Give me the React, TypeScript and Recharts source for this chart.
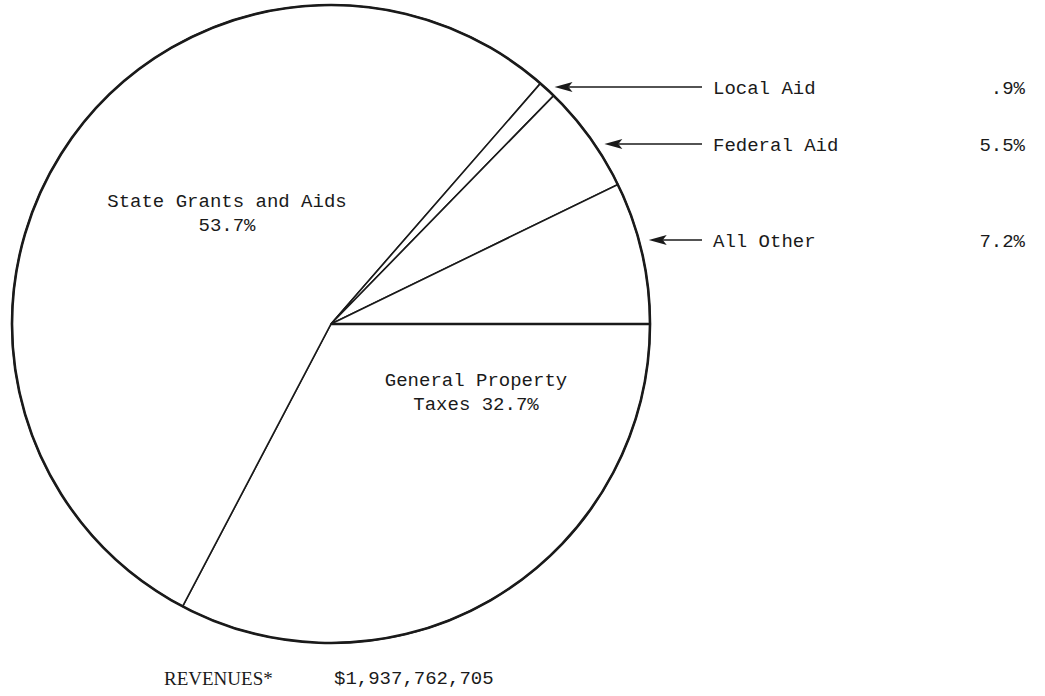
import { Pie, PieChart } from 'recharts'

const CATEGORIES = ['General Property Taxes', 'State Grants and Aids', 'Local Aid', 'Federal Aid', 'All Other']
const SHARES = [32.7, 53.7, 0.9, 5.5, 7.2]
const TOTAL_LABEL = 'REVENUES*'
const TOTAL_VALUE = '$1,937,762,705'

const MONO = '"Liberation Mono", "DejaVu Sans Mono", monospace'
const SERIF = '"Liberation Serif", "DejaVu Serif", serif'
const INK = '#1a1a1a'

const data = CATEGORIES.map((name, i) => ({ name, value: SHARES[i] }))
const outline = [{ name: 'total', value: 100 }]

const fmtPct = (v: number) => `${v < 1 ? String(v).replace(/^0/, '') : v}%`

// inner labels: offset from center in px; outer: row y for the arrow + text
const INNER: Record<number, { dx: number; dy: number; lines: (v: number) => string[] }> = {
  0: { dx: 145, dy: 62, lines: (v) => ['General Property', `Taxes ${fmtPct(v)}`] },
  1: { dx: -104, dy: -117, lines: (v) => ['State Grants and Aids', fmtPct(v)] },
}
const OUTER_ROW: Record<number, number> = { 2: 87, 3: 144, 4: 240 }
const TEXT_X = 713
const PCT_X = 1025

function renderLabel(props: any) {
  const { cx, cy, outerRadius, index, value, name } = props
  const inner = INNER[index]
  if (inner) {
    const lines = inner.lines(value)
    return (
      <text
        key={name}
        x={cx + inner.dx}
        y={cy + inner.dy}
        textAnchor="middle"
        fontFamily={MONO}
        fontSize={19}
        fill={INK}
      >
        {lines.map((l, k) => (
          <tspan key={k} x={cx + inner.dx} dy={k === 0 ? 0 : 24}>
            {l}
          </tspan>
        ))}
      </text>
    )
  }
  const y = OUTER_ROW[index]
  const tip = cx + Math.sqrt(outerRadius * outerRadius - (y - cy) * (y - cy)) + 10
  const tail = TEXT_X - 11
  return (
    <g key={name}>
      <line x1={tip + 14} y1={y} x2={tail} y2={y} stroke={INK} strokeWidth={1.6} />
      <polygon points={`${tip},${y} ${tip + 18},${y - 5} ${tip + 14},${y} ${tip + 18},${y + 5}`} fill={INK} />
      <text x={TEXT_X} y={y} dy="0.35em" fontFamily={MONO} fontSize={19} fill={INK}>
        {name}
      </text>
      <text x={PCT_X} y={y} dy="0.35em" textAnchor="end" fontFamily={MONO} fontSize={19} fill={INK}>
        {fmtPct(value)}
      </text>
    </g>
  )
}

export default function App() {
  return (
    <div style={{ position: 'absolute', left: 0, top: 0, width: 1045, height: 696, background: '#fff' }}>
      <PieChart width={1045} height={696} margin={{ top: 0, right: 0, bottom: 0, left: 0 }}>
        <Pie
          data={data}
          dataKey="value"
          nameKey="name"
          cx={331}
          cy={324}
          outerRadius={319}
          startAngle={0}
          endAngle={-360}
          fill="#fff"
          stroke={INK}
          strokeWidth={1.6}
          label={renderLabel}
          labelLine={false}
          isAnimationActive={false}
        />
        <Pie
          data={outline}
          dataKey="value"
          cx={331}
          cy={324}
          outerRadius={319}
          startAngle={0}
          endAngle={-360}
          fill="none"
          stroke={INK}
          strokeWidth={2.6}
          isAnimationActive={false}
        />
      </PieChart>
      <div
        style={{
          position: 'absolute',
          left: 164,
          top: 667,
          fontFamily: SERIF,
          fontSize: 19,
          color: INK,
          lineHeight: '24px',
        }}
      >
        {TOTAL_LABEL}
      </div>
      <div
        style={{
          position: 'absolute',
          left: 334,
          top: 667,
          fontFamily: MONO,
          fontSize: 19,
          color: INK,
          lineHeight: '24px',
        }}
      >
        {TOTAL_VALUE}
      </div>
    </div>
  )
}
